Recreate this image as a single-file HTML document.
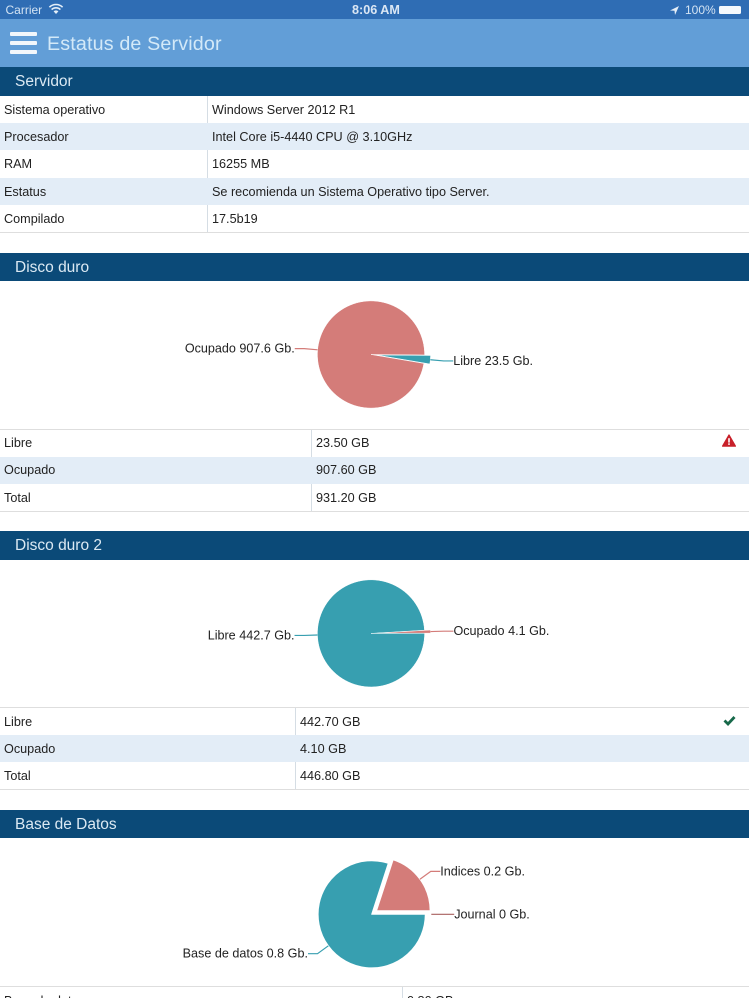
<!DOCTYPE html>
<html lang="es">
<head>
<meta charset="utf-8">
<title>Estatus de Servidor</title>
<style>
html,body{margin:0;padding:0;background:#fff;}
body{width:750px;height:1000px;overflow:hidden;position:relative;font-family:"Liberation Sans",sans-serif;color:#222;}
#page{position:absolute;left:0;top:0;width:749px;height:998px;overflow:hidden;background:#fff;filter:blur(0.35px);}
.abs{position:absolute;}
#status{left:0;top:0;width:749px;height:19px;background:#2f6db4;color:#d3e3f3;font-size:12px;line-height:20px;}
#nav{left:0;top:19px;width:749px;height:48px;background:#629ed7;}
#nav-title{left:47px;top:12px;font-size:19.7px;line-height:26px;color:#d3e9f8;letter-spacing:.15px;white-space:nowrap;}
.burger{left:10px;width:27px;height:4.5px;background:#f2f7fb;border-radius:1px;}
.sec{left:0;width:749px;height:28px;background:#0b4a78;color:#dbe9f3;font-size:15.5px;line-height:29px;text-indent:15px;}
.tbl{left:0;width:749px;border-top:1px solid #dedede;border-bottom:1px solid #dedede;}
.row{position:relative;height:27px;font-size:12.65px;line-height:26px;white-space:nowrap;}
.row.alt{background:#e3edf7;}
.row span{position:absolute;top:1px;}
.row.tight span{top:0;}
.row .k{left:4px;}
.vline{position:absolute;top:0;bottom:0;width:1px;background:#d5dde4;}
svg.chart{position:absolute;left:0;top:0;}
svg.chart text{font-family:"Liberation Sans",sans-serif;font-size:12.6px;fill:#222;dominant-baseline:central;}
</style>
</head>
<body>
<div id="page">

<div id="status" class="abs">
  <span class="abs" style="left:5.5px;top:0">Carrier</span>
  <svg class="abs" style="left:48px;top:3px" width="16" height="12" viewBox="0 0 16 12">
    <path d="M8 11 L5.6 8.4 A3.4 3.4 0 0 1 10.4 8.4 Z" fill="#e4eef8"/>
    <path d="M3.6 6.6 A6.2 6.2 0 0 1 12.4 6.6" fill="none" stroke="#e4eef8" stroke-width="1.6"/>
    <path d="M1.4 4.2 A9.4 9.4 0 0 1 14.6 4.2" fill="none" stroke="#e4eef8" stroke-width="1.6"/>
  </svg>
  <span class="abs" style="left:352px;top:0;font-weight:bold;font-size:12.6px;color:#dbe7f4;white-space:nowrap">8:06 AM</span>
  <svg class="abs" style="left:669px;top:5px" width="11" height="11" viewBox="0 0 11 11">
    <path d="M10 1 L1 5.5 L5.5 5.8 L6 10 Z" fill="#e4eef8"/>
  </svg>
  <span class="abs" style="left:685px;top:0;white-space:nowrap">100%</span>
  <div class="abs" style="left:719px;top:6px;width:22px;height:8px;background:#f4f8fc;border-radius:1.5px"></div>
</div>

<div id="nav" class="abs">
  <div class="abs burger" style="top:12.5px"></div>
  <div class="abs burger" style="top:21.5px"></div>
  <div class="abs burger" style="top:30.5px"></div>
  <div id="nav-title" class="abs">Estatus de Servidor</div>
</div>

<div class="abs sec" style="top:67px;height:29px">Servidor</div>
<div class="abs tbl" style="top:96px;border-top:0">
  <div class="vline" style="left:207px"></div>
  <div class="row"><span class="k">Sistema operativo</span><span style="left:212px">Windows Server 2012 R1</span></div>
  <div class="row alt"><span class="k">Procesador</span><span style="left:212px">Intel Core i5-4440 CPU @ 3.10GHz</span></div>
  <div class="row" style="height:28px"><span class="k">RAM</span><span style="left:212px">16255 MB</span></div>
  <div class="row alt"><span class="k">Estatus</span><span style="left:212px">Se recomienda un Sistema Operativo tipo Server.</span></div>
  <div class="row"><span class="k">Compilado</span><span style="left:212px">17.5b19</span></div>
</div>

<div class="abs sec" style="top:253px">Disco duro</div>
<div class="abs tbl" style="top:429px">
  <div class="vline" style="left:311px"></div>
  <div class="row tight"><span class="k">Libre</span><span style="left:316px">23.50 GB</span></div>
  <div class="row alt tight"><span class="k">Ocupado</span><span style="left:316px">907.60 GB</span></div>
  <div class="row"><span class="k">Total</span><span style="left:316px">931.20 GB</span></div>
</div>
<svg class="abs" style="left:722px;top:434px" width="14" height="13" viewBox="0 0 14 13">
  <path d="M7 .8 L13.6 12.2 L.4 12.2 Z" fill="#c8202a" stroke="#c8202a" stroke-linejoin="round"/>
  <rect x="6.2" y="4.2" width="1.6" height="4.4" fill="#fff"/><rect x="6.2" y="9.3" width="1.6" height="1.6" fill="#fff"/>
</svg>

<div class="abs sec" style="top:531px;height:29px">Disco duro 2</div>
<div class="abs tbl" style="top:707px">
  <div class="vline" style="left:295px"></div>
  <div class="row"><span class="k">Libre</span><span style="left:300px">442.70 GB</span></div>
  <div class="row alt"><span class="k">Ocupado</span><span style="left:300px">4.10 GB</span></div>
  <div class="row"><span class="k">Total</span><span style="left:300px">446.80 GB</span></div>
</div>
<svg class="abs" style="left:723px;top:715px" width="13" height="11" viewBox="0 0 13 11">
  <path d="M1.5 5.5 L5 9 L11.5 2" fill="none" stroke="#17694a" stroke-width="2.8"/>
</svg>

<div class="abs sec" style="top:810px">Base de Datos</div>
<div class="abs tbl" style="top:986px">
  <div class="vline" style="left:402px"></div>
  <div class="row"><span class="k">Base de datos</span><span style="left:407px">0.80 GB</span></div>
</div>

<svg id="charts" class="chart" width="749" height="998"></svg>
</div>

<script>
// Disco duro
var disk1Names = ['Libre', 'Ocupado'];
var disk1Values = [23.5, 907.6];
var disk1Labels = ['23.5', '907.6'];
// Disco duro 2
var disk2Names = ['Ocupado', 'Libre'];
var disk2Values = [4.1, 442.7];
var disk2Labels = ['4.1', '442.7'];
// Base de Datos
var dbNames = ['Indices', 'Journal', 'Base de datos'];
var dbValues = [0.2, 0, 0.8];
var dbLabels = ['0.2', '0', '0.8'];

var sliceColors = {'Libre':'#379fb0','Ocupado':'#d47c79','Indices':'#d47c79','Journal':'#a8605f','Base de datos':'#379fb0'};
var NS = 'http://www.w3.org/2000/svg';
var svg = document.getElementById('charts');
var RADIUS = 53.6, LABEL_RADIUS = 67, LABEL_GAP = 9.5, EXPLODE = 6;

function polar(cx, cy, r, deg) {
  var a = deg * Math.PI / 180;
  return [cx + r * Math.sin(a), cy - r * Math.cos(a)];
}

function drawPie(chartName, cx, cy, startAngle, names, values, labels, explodedCount, strokeWidth) {
  var total = 0;
  values.forEach(function (v) { total += v; });
  var slices = [];
  var angle = startAngle;
  values.forEach(function (v, i) {
    var sweep = v / total * 360;
    slices.push({ i: i, from: angle, to: angle + sweep, mid: angle + sweep / 2, exploded: i < explodedCount });
    angle += sweep;
  });
  var order = slices.slice().sort(function (a, b) { return (a.exploded ? 1 : 0) - (b.exploded ? 1 : 0); });
  order.forEach(function (s) {
    var color = sliceColors[names[s.i]];
    var o = s.exploded ? polar(0, 0, EXPLODE, s.mid) : [0, 0];
    var x = cx + o[0], y = cy + o[1];
    if (s.to > s.from) {
      var p1 = polar(x, y, RADIUS, s.from);
      var p2 = polar(x, y, RADIUS, s.to);
      var large = s.to - s.from > 180 ? 1 : 0;
      var path = document.createElementNS(NS, 'path');
      path.setAttribute('d', 'M' + x + ' ' + y + ' L' + p1[0] + ' ' + p1[1] + ' A' + RADIUS + ' ' + RADIUS + ' 0 ' + large + ' 1 ' + p2[0] + ' ' + p2[1] + ' Z');
      path.setAttribute('fill', color);
      path.setAttribute('stroke', '#fff');
      path.setAttribute('stroke-width', strokeWidth);
      path.setAttribute('stroke-linejoin', 'round');
      
      
      svg.appendChild(path);
    }
    var edge = polar(x, y, RADIUS, s.mid);
    var elbow = polar(x, y, LABEL_RADIUS, s.mid);
    var right = Math.sin(s.mid * Math.PI / 180) >= 0;
    var labelX = elbow[0] + (right ? LABEL_GAP : -LABEL_GAP);
    var line = document.createElementNS(NS, 'path');
    line.setAttribute('d', 'M' + edge[0] + ' ' + edge[1] + ' L' + elbow[0] + ' ' + elbow[1] + ' L' + labelX + ' ' + elbow[1]);
    line.setAttribute('fill', 'none');
    line.setAttribute('stroke', color);
    line.setAttribute('stroke-width', '1.2');
    
    
    svg.appendChild(line);
    var text = document.createElementNS(NS, 'text');
    text.setAttribute('x', labelX);
    text.setAttribute('y', elbow[1]);
    text.setAttribute('text-anchor', right ? 'start' : 'end');
    
    
    text.textContent = names[s.i] + ' ' + labels[s.i] + ' Gb.';
    svg.appendChild(text);
  });
}

drawPie('disk-pie', 371, 354.5, 90.5, disk1Names, disk1Values, disk1Labels, 1, 0.5);
drawPie('disk-2-pie', 371, 633.4, 86.6, disk2Names, disk2Values, disk2Labels, 1, 0.5);
drawPie('database-pie', 371.7, 914.3, 18, dbNames, dbValues, dbLabels, 2, 1);
</script>
</body>
</html>
